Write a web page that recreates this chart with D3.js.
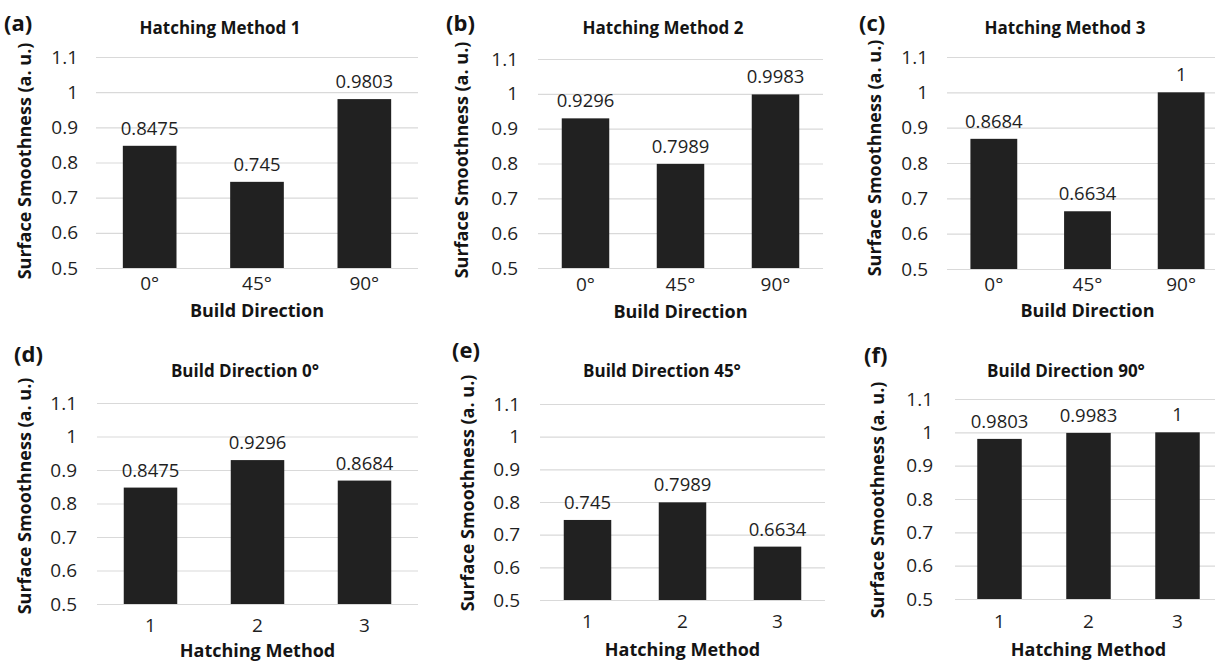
<!DOCTYPE html>
<html>
<head>
<meta charset="utf-8">
<script src="https://cdn.jsdelivr.net/npm/d3@7"></script>
<style>
  html, body { margin: 0; padding: 0; background: #ffffff; }
  svg { display: block; }
  text { font-family: "Open Sans", "Noto Sans", sans-serif; }
</style>
</head>
<body>
<svg id="chart" width="1215" height="661"></svg>
<script>
// Surface smoothness (a. u.) per hatching method and build direction
const buildDirections = ["0°", "45°", "90°"];
const hatchingMethods = ["1", "2", "3"];

const method1 = [0.8475, 0.745, 0.9803];
const method2 = [0.9296, 0.7989, 0.9983];
const method3 = [0.8684, 0.6634, 1];

// Same measurements regrouped by build direction (one value per hatching method)
const direction0 = [method1[0], method2[0], method3[0]];
const direction45 = [method1[1], method2[1], method3[1]];
const direction90 = [method1[2], method2[2], method3[2]];

const yTicks = [0.5, 0.6, 0.7, 0.8, 0.9, 1, 1.1];
const yTickLabels = ["0.5", "0.6", "0.7", "0.8", "0.9", "1", "1.1"];
const yDomain = [0.5, 1.1];

const yAxisTitle = "Surface Smoothness (a. u.)";

const panels = [
  { tag: "(a)", title: "Hatching Method 1", xTitle: "Build Direction", cats: buildDirections, values: method1,
    left: 96, right: 418, top: 57, bottom: 268, tagX: 4, tagY: 31, titleX: 220, titleY: 34,
    tickRight: 78, yTitleX: 25, yTitleY: 161, xTickY: 290, xTitleY: 317 },
  { tag: "(b)", title: "Hatching Method 2", xTitle: "Build Direction", cats: buildDirections, values: method2,
    left: 538, right: 823, top: 59, bottom: 268, tagX: 446, tagY: 31, titleX: 663, titleY: 34,
    tickRight: 518, yTitleX: 462, yTitleY: 160, xTickY: 291, xTitleY: 318 },
  { tag: "(c)", title: "Hatching Method 3", xTitle: "Build Direction", cats: buildDirections, values: method3,
    left: 947, right: 1228, top: 57, bottom: 269, tagX: 859, tagY: 31, titleX: 1065, titleY: 34,
    tickRight: 928, yTitleX: 875, yTitleY: 158, xTickY: 291, xTitleY: 317 },
  { tag: "(d)", title: "Build Direction 0°", xTitle: "Hatching Method", cats: hatchingMethods, values: direction0,
    left: 97, right: 418, top: 403, bottom: 604, tagX: 14, tagY: 362, titleX: 245, titleY: 377,
    tickRight: 77, yTitleX: 25, yTitleY: 496, xTickY: 632, xTitleY: 657 },
  { tag: "(e)", title: "Build Direction 45°", xTitle: "Hatching Method", cats: hatchingMethods, values: direction45,
    left: 540, right: 825, top: 404, bottom: 600, tagX: 452, tagY: 358, titleX: 662, titleY: 377,
    tickRight: 520, yTitleX: 468, yTitleY: 493, xTickY: 628, xTitleY: 656 },
  { tag: "(f)", title: "Build Direction 90°", xTitle: "Hatching Method", cats: hatchingMethods, values: direction90,
    left: 955, right: 1222, top: 399, bottom: 599, tagX: 864, tagY: 363, titleX: 1066, titleY: 377,
    tickRight: 933, yTitleX: 878, yTitleY: 500, xTickY: 628, xTitleY: 656 }
];

const svg = d3.select("#chart");
const barColor = "#212121";
const gridColor = "#d9d9d9";
const textColor = "#1f1f1f";
const titleColor = "#141414";

function drawPanel(p) {
  const g = svg.append("g");

  const x = d3.scaleBand()
    .domain(p.cats)
    .range([p.left, p.right])
    .paddingInner(0.5)
    .paddingOuter(0.25);

  const y = d3.scaleLinear()
    .domain(yDomain)
    .range([p.bottom, p.top]);

  // Gridlines and value ticks
  const yAxis = d3.axisLeft(y)
    .tickValues(yTicks)
    .tickFormat((d, i) => yTickLabels[i])
    .tickSize(-(p.right - p.left))
    .tickPadding(p.left - p.tickRight);

  const yg = g.append("g")
    .attr("transform", `translate(${p.left},0)`)
    .call(yAxis);
  yg.select(".domain").remove();
  yg.selectAll(".tick line").attr("stroke", gridColor).attr("stroke-width", 1.2);
  yg.selectAll(".tick text")
    .attr("fill", textColor)
    .style("font-size", "19px")
    .style("font-family", "'Open Sans', sans-serif");

  // Bars
  g.selectAll("rect.bar")
    .data(p.values)
    .join("rect")
    .attr("class", "bar")
    .attr("x", (d, i) => x(p.cats[i]))
    .attr("width", x.bandwidth())
    .attr("y", d => y(d))
    .attr("height", d => y(yDomain[0]) - y(d))
    .attr("fill", barColor);

  // Value labels
  g.selectAll("text.val")
    .data(p.values)
    .join("text")
    .attr("class", "val")
    .attr("x", (d, i) => x(p.cats[i]) + x.bandwidth() / 2)
    .attr("y", d => y(d) - 11)
    .attr("text-anchor", "middle")
    .attr("fill", textColor)
    .style("font-size", "18.5px")
    .text(d => String(d));

  // Category axis
  const xAxis = d3.axisBottom(x).tickSize(0);
  const xg = g.append("g")
    .attr("transform", `translate(0,${p.bottom})`)
    .call(xAxis);
  xg.select(".domain").remove();
  xg.selectAll(".tick text")
    .attr("y", p.xTickY - p.bottom)
    .attr("dy", null)
    .attr("fill", textColor)
    .style("font-size", "19px")
    .style("font-family", "'Open Sans', sans-serif");

  // Axis titles
  g.append("text")
    .attr("x", x(p.cats[1]) + x.bandwidth() / 2)
    .attr("y", p.xTitleY)
    .attr("text-anchor", "middle")
    .attr("fill", titleColor)
    .style("font-size", "18px")
    .style("font-weight", "bold")
    .text(p.xTitle);

  g.append("text")
    .attr("transform", `translate(${p.yTitleX},${p.yTitleY}) rotate(-90)`)
    .attr("text-anchor", "middle")
    .attr("dy", "0.35em")
    .attr("fill", titleColor)
    .style("font-size", "18px")
    .style("font-weight", "bold")
    .text(yAxisTitle);

  // Chart title and panel tag
  g.append("text")
    .attr("x", p.titleX)
    .attr("y", p.titleY)
    .attr("text-anchor", "middle")
    .attr("fill", titleColor)
    .style("font-size", "17px")
    .style("font-weight", "bold")
    .text(p.title);

  g.append("text")
    .attr("x", p.tagX)
    .attr("y", p.tagY)
    .attr("fill", titleColor)
    .style("font-size", "22px")
    .style("font-weight", "bold")
    .text(p.tag);
}

panels.forEach(drawPanel);
</script>
</body>
</html>
